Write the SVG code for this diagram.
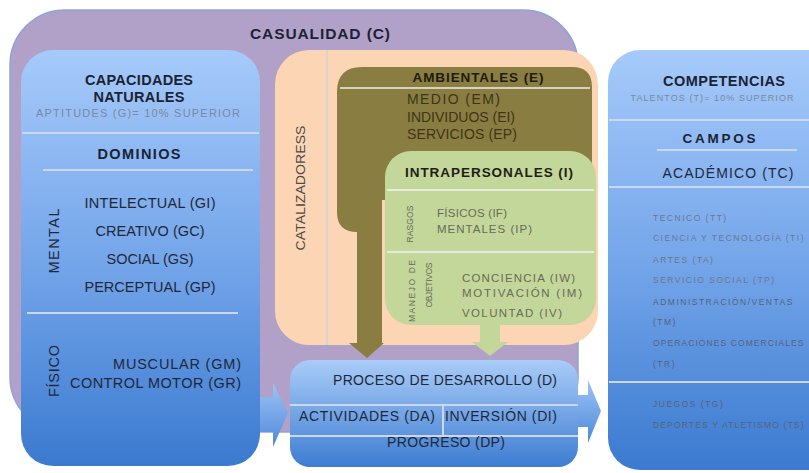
<svg xmlns="http://www.w3.org/2000/svg" width="809" height="473" viewBox="0 0 809 473">
<defs>
<linearGradient id="blueG" x1="0" y1="0" x2="0" y2="1">
<stop offset="0" stop-color="#a6cafa"/>
<stop offset="0.5" stop-color="#75a6ea"/>
<stop offset="1" stop-color="#3b7ad0"/>
</linearGradient>
<linearGradient id="procG" x1="0" y1="0" x2="0" y2="1">
<stop offset="0" stop-color="#a9ccf8"/>
<stop offset="1" stop-color="#3e7dd2"/>
</linearGradient>
<linearGradient id="arrG" x1="0" y1="0" x2="0" y2="1">
<stop offset="0" stop-color="#9cc3f6"/>
<stop offset="1" stop-color="#4f89da"/>
</linearGradient>
<style>
text{font-family:"Liberation Sans",Arial,sans-serif;}
.h{font-weight:bold;fill:#1b2333;}
.t{fill:#1f2838;}
.g{fill:#7a88a0;}
.o{fill:#3b3616;}
.gr{fill:#6a6a58;}
.li{fill:#6a778e;font-size:8.5px;letter-spacing:1.5px;}
.ld{fill:#56627a;}
.bl{stroke:#c9d8ee;stroke-width:2;fill:none;}
.c{text-anchor:middle;}
.e{text-anchor:end;}
</style>
</defs>

<g id="casualidad">
<rect x="10" y="10" width="568" height="422" rx="55" fill="#b1a1c8" stroke="#8ea4d6" stroke-width="1.5"/>
<text class="h c" x="320" y="39" font-size="15.5" textLength="140" lengthAdjust="spacing">CASUALIDAD (C)</text>
</g>

<g id="catalizadores">
<rect x="275" y="50" width="323" height="295" rx="34" fill="#fcd5b4"/>
<line x1="327" y1="50" x2="327" y2="345" stroke="#d9d4cf" stroke-width="2"/>
<text x="305" y="188" font-size="12" fill="#4a4a4a" class="c" transform="rotate(-90 305 188)" textLength="125" lengthAdjust="spacingAndGlyphs">CATALIZADORESS</text>
</g>

<g id="ambientales">
<path d="M 337,92 Q 337,67 362,67 H 572 Q 592,67 592,87 V 200 H 382 V 232 H 357 Q 337,232 337,212 Z" fill="#8a7d42"/>
<line x1="340" y1="88" x2="590" y2="88" stroke="#d6d2bf" stroke-width="2"/>
<text class="c" x="478" y="82" font-size="13.5" font-weight="bold" fill="#1e1c0e" textLength="131" lengthAdjust="spacing">AMBIENTALES (E)</text>
<text class="o" x="407" y="104" font-size="14" textLength="93" lengthAdjust="spacing">MEDIO (EM)</text>
<text class="o" x="407" y="122" font-size="14" textLength="108" lengthAdjust="spacing">INDIVIDUOS (EI)</text>
<text class="o" x="407" y="139" font-size="14" textLength="110" lengthAdjust="spacing">SERVICIOS (EP)</text>
</g>

<g id="intrapersonales">
<rect x="385" y="151" width="211" height="174" rx="26" fill="#c4d79b"/>
<line x1="387" y1="190" x2="594" y2="190" stroke="#e6eddb" stroke-width="2"/>
<line x1="387" y1="252" x2="594" y2="252" stroke="#e6eddb" stroke-width="2"/>
<text class="c" x="489" y="177" font-size="13.5" font-weight="bold" fill="#1e2014" textLength="168" lengthAdjust="spacing">INTRAPERSONALES (I)</text>
<text x="413" y="224" font-size="8.5" class="gr c" transform="rotate(-90 413 224)" textLength="37" lengthAdjust="spacing">RASGOS</text>
<text class="gr" x="437" y="217" font-size="11.5" textLength="70" lengthAdjust="spacing">FÍSICOS (IF)</text>
<text class="gr" x="437" y="233" font-size="11.5" textLength="95" lengthAdjust="spacing">MENTALES (IP)</text>
<text x="415" y="291" font-size="8.5" class="gr c" transform="rotate(-90 415 291)" textLength="62" lengthAdjust="spacing">MANEJO DE</text>
<text x="432" y="285" font-size="8.5" class="gr c" transform="rotate(-90 432 285)" textLength="45" lengthAdjust="spacing">OBJETIVOS</text>
<text class="gr" x="462" y="282" font-size="11.5" textLength="113" lengthAdjust="spacing">CONCIENCIA (IW)</text>
<text class="gr" x="462" y="297" font-size="11.5" textLength="120" lengthAdjust="spacing">MOTIVACIÓN (IM)</text>
<text class="gr" x="462" y="317" font-size="11.5" textLength="100" lengthAdjust="spacing">VOLUNTAD (IV)</text>
</g>

<g id="capacidades">
<rect x="21" y="50" width="239" height="416" rx="32" fill="url(#blueG)"/>
<line class="bl" x1="22" y1="133" x2="259" y2="133"/>
<line class="bl" x1="43" y1="170" x2="253" y2="170"/>
<line class="bl" x1="27" y1="313" x2="238" y2="313"/>
<text class="h c" x="139" y="85" font-size="14.5" textLength="108" lengthAdjust="spacing">CAPACIDADES</text>
<text class="h c" x="139" y="102" font-size="14.5" textLength="91" lengthAdjust="spacing">NATURALES</text>
<text class="g c" x="138" y="117" font-size="11" textLength="204" lengthAdjust="spacing">APTITUDES (G)= 10% SUPERIOR</text>
<text class="h c" x="139" y="159" font-size="14.5" textLength="83" lengthAdjust="spacing">DOMINIOS</text>
<text x="59" y="241" font-size="14.5" class="t c" transform="rotate(-90 59 241)" textLength="65" lengthAdjust="spacing">MENTAL</text>
<text class="t c" x="150" y="208" font-size="14.5" textLength="131" lengthAdjust="spacing">INTELECTUAL (GI)</text>
<text class="t c" x="150" y="236" font-size="14.5" textLength="109" lengthAdjust="spacing">CREATIVO (GC)</text>
<text class="t c" x="150" y="264" font-size="14.5" textLength="87" lengthAdjust="spacing">SOCIAL (GS)</text>
<text class="t c" x="150" y="292" font-size="14.5" textLength="131" lengthAdjust="spacing">PERCEPTUAL (GP)</text>
<text x="59" y="371" font-size="14.5" class="t c" transform="rotate(-90 59 371)" textLength="52" lengthAdjust="spacing">FÍSICO</text>
<text class="t e" x="241" y="369" font-size="14.5" textLength="128" lengthAdjust="spacing">MUSCULAR (GM)</text>
<text class="t e" x="241" y="388" font-size="14.5" textLength="171" lengthAdjust="spacing">CONTROL MOTOR (GR)</text>
</g>

<g id="proceso">
<rect x="290" y="360" width="288" height="107" rx="20" fill="url(#procG)"/>
<line class="bl" x1="290" y1="405" x2="578" y2="405"/>
<line class="bl" x1="290" y1="436" x2="578" y2="436"/>
<line class="bl" x1="443" y1="405" x2="443" y2="436"/>
<text class="t c" x="445" y="385" font-size="14" textLength="224" lengthAdjust="spacing">PROCESO DE DESARROLLO (D)</text>
<text class="t c" x="367" y="421" font-size="14" textLength="136" lengthAdjust="spacing">ACTIVIDADES (DA)</text>
<text class="t c" x="501" y="421" font-size="14" textLength="112" lengthAdjust="spacing">INVERSIÓN (DI)</text>
<text class="t c" x="446" y="447" font-size="14" textLength="118" lengthAdjust="spacing">PROGRESO (DP)</text>
</g>

<g id="competencias">
<rect x="608" y="50" width="240" height="420" rx="32" fill="url(#blueG)"/>
<line class="bl" x1="609" y1="120" x2="809" y2="120"/>
<line class="bl" x1="657" y1="150" x2="797" y2="150"/>
<line class="bl" x1="609" y1="187" x2="809" y2="187"/>
<line class="bl" x1="609" y1="382" x2="809" y2="382"/>
<text class="h c" x="724" y="86" font-size="14.5" textLength="122" lengthAdjust="spacing">COMPETENCIAS</text>
<text class="g c" x="712" y="101" font-size="9" textLength="163" lengthAdjust="spacing">TALENTOS (T)= 10% SUPERIOR</text>
<text class="h c" x="719" y="143" font-size="13.5" textLength="73" lengthAdjust="spacing">CAMPOS</text>
<text class="t c" x="728" y="178" font-size="14" textLength="131" lengthAdjust="spacing">ACADÉMICO (TC)</text>
<text class="li" x="653" y="221">TECNICO (TT)</text>
<text class="li" x="653" y="241" textLength="152" lengthAdjust="spacing">CIENCIA Y TECNOLOGÍA (TI)</text>
<text class="li" x="653" y="263">ARTES (TA)</text>
<text class="li" x="653" y="283">SERVICIO SOCIAL (TP)</text>
<text class="li ld" x="653" y="305">ADMINISTRACIÓN/VENTAS</text>
<text class="li ld" x="653" y="325">(TM)</text>
<text class="li ld" x="653" y="346" textLength="152" lengthAdjust="spacing">OPERACIONES COMERCIALES</text>
<text class="li ld" x="653" y="367">(TR)</text>
<text class="li ld" x="653" y="407">JUEGOS (TG)</text>
<text class="li ld" x="653" y="428" textLength="152" lengthAdjust="spacing">DEPORTES Y ATLETISMO (TS)</text>
</g>

<g id="connectors">
<path d="M 357,228 H 382 V 343 H 384 L 367,358 L 349,343 H 357 Z" fill="#8a7d42"/>
<path d="M 480,322 H 500 V 342 H 508 L 490,356 L 472,342 H 480 Z" fill="#c4d79b"/>
<path d="M 260,397 H 273 V 383 L 288,413 L 273,447 V 432 H 260 Z" fill="url(#arrG)"/>
<path d="M 578,395 H 588 V 380 L 601,411 L 588,443 V 427 H 578 Z" fill="url(#arrG)"/>
</g>
</svg>
